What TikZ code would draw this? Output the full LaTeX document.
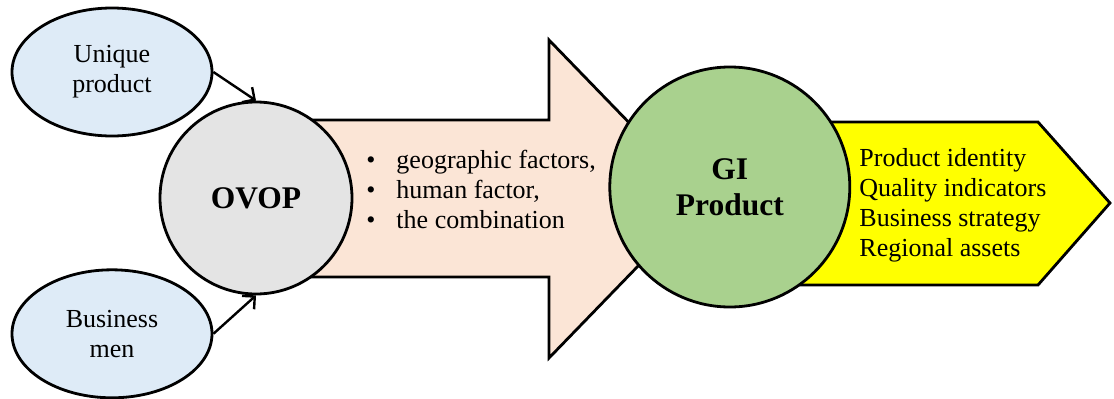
\documentclass[tikz,border=0pt]{standalone}
\usepackage{fontspec}
\setmainfont{Liberation Serif}
\usetikzlibrary{
  arrows.meta,
  positioning,
  shapes.geometric,
}
\definecolor{ovalblue}{HTML}{DEEBF7}
\definecolor{ovopgrey}{HTML}{E4E4E4}
\definecolor{flowpeach}{HTML}{FBE5D6}
\definecolor{gigreen}{HTML}{A9D18E}
\definecolor{strongyellow}{HTML}{FFFF00}
\newcommand{\dotitem}{\textbullet\hspace{21pt}}

\begin{document}
\begin{tikzpicture}[
  x=1pt, y=-1pt, line width=2.8pt,
  source/.style={ellipse, draw, fill=ovalblue, minimum width=200pt, minimum height=128pt, inner sep=0pt, align=center, font=\fontsize{26}{30}\selectfont},
  core/.style={circle, draw, minimum size=#1, inner sep=0pt, align=center, font=\fontsize{31.5}{36}\selectfont\bfseries},
  feed/.style={line width=2.4pt, -{Straight Barb[length=9pt, width=18pt]}},
  list/.style={anchor=west, inner sep=0pt, align=left, font=\fontsize{26}{30}\selectfont}
]
\useasboundingbox (0,0) rectangle (1114,399);
% big arrows, drawn first so the circles sit on top
\draw[fill=flowpeach] (300,120) -- (549,120) -- (549,40) -- (703,199) -- (549,358) -- (549,277) -- (300,277) -- cycle;
\draw[fill=strongyellow] (760,122) -- (1038,122) -- (1110,203) -- (1038,285) -- (760,285) -- cycle;
\node[core=192pt, fill=ovopgrey] (ovop) at (256,198) {OVOP};
\node[core=240pt, fill=gigreen, right=255pt of ovop, yshift=11pt] (gi) {GI\\Product};
\node[source] (unique) at (112,72) {Unique\\product};
\node[source, below=131pt of unique] (business) {Business\\men};
\draw[feed] (unique.east) -- (ovop.north);
\draw[feed] (business.east) -- (ovop.south);
\node[list] (factors) at (365,189) {\dotitem geographic factors,\\\dotitem human factor,\\\dotitem the combination};
\node[list] (assets) at (858,205) {Product identity\\Quality indicators\\Business strategy\\Regional assets};
\end{tikzpicture}
\end{document}
